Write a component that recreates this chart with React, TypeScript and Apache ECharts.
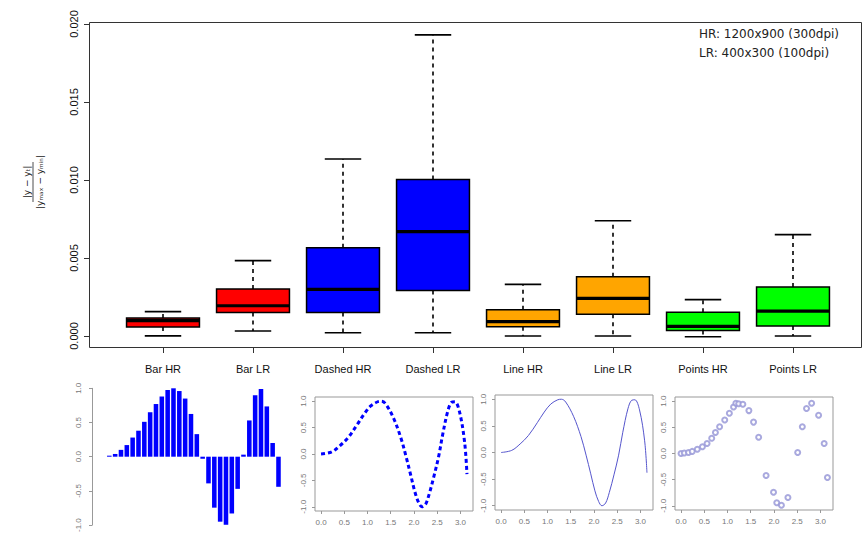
import React, { useEffect, useRef } from "react";
import * as echarts from "echarts";

// ---- main boxplot data ----
const categories = ["Bar HR", "Bar LR", "Dashed HR", "Dashed LR", "Line HR", "Line LR", "Points HR", "Points LR"];
const boxColors = ["#ff0000", "#ff0000", "#0000ff", "#0000ff", "#ffa500", "#ffa500", "#00ff00", "#00ff00"];
const whiskerLow = [0.00001, 0.00032, 0.00021, 0.00021, 0.0, 0.0, -0.00005, 0.0];
const quart1 = [0.00058, 0.0015, 0.0015, 0.00291, 0.0006, 0.00139, 0.00036, 0.00064];
const medians = [0.00098, 0.00194, 0.00299, 0.00669, 0.00092, 0.00241, 0.00062, 0.0016];
const quart3 = [0.00115, 0.00301, 0.00566, 0.01004, 0.00169, 0.0038, 0.00152, 0.00314];
const whiskerHigh = [0.00156, 0.00483, 0.01135, 0.0193, 0.00331, 0.00739, 0.00233, 0.0065];

// ---- small panels data ----
const barValues = [0.015, 0.04, 0.1, 0.17, 0.28, 0.38, 0.51, 0.65, 0.77, 0.88, 0.975, 1.0, 0.96, 0.85, 0.625, 0.33,
  -0.03, -0.39, -0.745, -0.95, -0.995, -0.83, -0.47, 0.03, 0.53, 0.9, 0.99, 0.735, 0.2, -0.44];
const curveX = [0, 0.23, 0.41, 0.59, 0.78, 0.93, 1.07, 1.22, 1.3, 1.39, 1.56, 1.72, 1.83, 1.93, 2.02, 2.1, 2.17, 2.25, 2.33, 2.43, 2.53, 2.62, 2.73, 2.81, 2.88, 2.98, 3.09, 3.14];
const curveY = [0, 0.04, 0.16, 0.32, 0.56, 0.76, 0.91, 0.99, 1.0, 0.95, 0.68, 0.3, -0.05, -0.4, -0.72, -0.92, -1.0, -0.95, -0.75, -0.42, -0.05, 0.38, 0.82, 0.98, 0.99, 0.8, 0.22, -0.38];
const pointsX = [0.0, 0.07, 0.16, 0.24, 0.35, 0.46, 0.56, 0.66, 0.74, 0.83, 0.94, 1.04, 1.13, 1.18, 1.24, 1.33, 1.46, 1.56, 1.67, 1.83, 1.99, 2.06, 2.16, 2.3, 2.51, 2.61, 2.7, 2.81, 2.96, 3.08, 3.15];
const pointsY = [0.0, 0.01, 0.02, 0.04, 0.08, 0.13, 0.19, 0.29, 0.4, 0.51, 0.64, 0.77, 0.89, 0.96, 0.95, 0.94, 0.82, 0.6, 0.31, -0.42, -0.74, -0.94, -0.99, -0.84, 0.02, 0.51, 0.86, 0.96, 0.73, 0.19, -0.46];
const panelXTicks = [0, 0.5, 1, 1.5, 2, 2.5, 3];
const panelYTicks = [-1, -0.5, 0, 0.5, 1];
const legendLines = ["HR: 1200x900 (300dpi)", "LR: 400x300 (100dpi)"];

const narrow = "'Liberation Sans Narrow', 'Liberation Sans', sans-serif";
const small = { fontSize: 8, color: "#777", fontFamily: "'Liberation Sans', sans-serif" };

function panelAxes(gridIndex: number) {
  const x = {
    type: "value", gridIndex, min: -0.13, max: 3.27, position: "bottom",
    axisLine: { show: false, onZero: false }, splitLine: { show: false },
    axisTick: { show: true, customValues: panelXTicks, length: 3, lineStyle: { color: "#999" } },
    axisLabel: { ...small, customValues: panelXTicks, margin: 7, formatter: (v: number) => v.toFixed(1) },
  };
  const y = {
    type: "value", gridIndex, min: -1.08, max: 1.08, position: "left",
    axisLine: { show: false, onZero: false }, splitLine: { show: false },
    axisTick: { show: true, customValues: panelYTicks, length: 3, lineStyle: { color: "#999" } },
    axisLabel: { ...small, customValues: panelYTicks, rotate: 90, margin: 8, formatter: (v: number) => v.toFixed(1) },
  };
  return { x, y };
}

export default function App() {
  const ref = useRef<HTMLDivElement>(null);
  useEffect(() => {
    if (!ref.current) return;
    const chart = echarts.init(ref.current, undefined, { renderer: "svg" });
    const boxData = categories.map((_, i) => [i, whiskerLow[i], quart1[i], medians[i], quart3[i], whiskerHigh[i]]);
    const p2 = panelAxes(2), p3 = panelAxes(3), p4 = panelAxes(4);
    chart.setOption({
      animation: false,
      backgroundColor: "#ffffff",
      grid: [
        { left: 118, width: 720, top: 24, height: 312 },
        { left: 106.4, width: 175, top: 388.3, height: 138.6 },
        { left: 315, width: 158, top: 397, height: 114, show: true, borderColor: "#999", borderWidth: 1, backgroundColor: "transparent" },
        { left: 495, width: 158, top: 395, height: 115, show: true, borderColor: "#999", borderWidth: 1, backgroundColor: "transparent" },
        { left: 675, width: 158, top: 397, height: 113, show: true, borderColor: "#999", borderWidth: 1, backgroundColor: "transparent" },
      ],
      xAxis: [
        {
          type: "category", gridIndex: 0, data: categories, offset: 12, position: "bottom",
          axisLine: { show: false, onZero: false },
          axisTick: { show: true, alignWithLabel: true, length: 5, lineStyle: { color: "#333" } },
          axisLabel: { fontSize: 11, color: "#111", fontFamily: narrow, margin: 15 },
        },
        { type: "category", gridIndex: 1, data: barValues.map((_, i) => String(i + 1)), show: false },
        p2.x, p3.x, p4.x,
      ],
      yAxis: [
        {
          type: "value", gridIndex: 0, min: 0, max: 0.02, interval: 0.005, offset: 29,
          splitLine: { show: false },
          axisLine: { show: true, onZero: false, lineStyle: { color: "#333" } },
          axisTick: { show: true, length: 5, lineStyle: { color: "#333" } },
          axisLabel: { rotate: 90, fontSize: 11, color: "#111", fontFamily: narrow, margin: 10, formatter: (v: number) => v.toFixed(3) },
        },
        {
          type: "value", gridIndex: 1, min: -1, max: 1, interval: 0.5, offset: 14.4,
          splitLine: { show: false },
          axisLine: { show: true, onZero: false, lineStyle: { color: "#999" } },
          axisTick: { show: true, length: 3, lineStyle: { color: "#999" } },
          axisLabel: { ...small, rotate: 90, margin: 10, formatter: (v: number) => v.toFixed(1) },
        },
        p2.y, p3.y, p4.y,
      ],
      series: [
        {
          type: "custom", xAxisIndex: 0, yAxisIndex: 0, data: boxData,
          encode: { x: 0, y: [1, 2, 3, 4, 5] },
          renderItem: (params: any, api: any) => {
            const i = api.value(0);
            const lo = api.coord([i, api.value(1)]);
            const b1 = api.coord([i, api.value(2)]);
            const md = api.coord([i, api.value(3)]);
            const b3 = api.coord([i, api.value(4)]);
            const hi = api.coord([i, api.value(5)]);
            const band = api.size([1, 0])[0];
            const bw = band * 0.81;
            const cw = bw / 2;
            const cx = lo[0];
            const dash = { stroke: "#000", lineWidth: 1.6, lineDash: [4, 4], fill: "none" };
            const solid = { stroke: "#000", lineWidth: 1.6, fill: "none" };
            return {
              type: "group",
              children: [
                { type: "line", shape: { x1: cx, y1: b3[1], x2: cx, y2: hi[1] }, style: dash },
                { type: "line", shape: { x1: cx, y1: b1[1], x2: cx, y2: lo[1] }, style: dash },
                { type: "line", shape: { x1: cx - cw / 2, y1: hi[1], x2: cx + cw / 2, y2: hi[1] }, style: solid },
                { type: "line", shape: { x1: cx - cw / 2, y1: lo[1], x2: cx + cw / 2, y2: lo[1] }, style: solid },
                { type: "rect", shape: { x: cx - bw / 2, y: b3[1], width: bw, height: b1[1] - b3[1] }, style: { fill: boxColors[params.dataIndex], stroke: "#000", lineWidth: 1.5 } },
                { type: "line", shape: { x1: cx - bw / 2, y1: md[1], x2: cx + bw / 2, y2: md[1] }, style: { stroke: "#000", lineWidth: 3.2 } },
              ],
            };
          },
        },
        { type: "bar", xAxisIndex: 1, yAxisIndex: 1, data: barValues, barWidth: "78%", itemStyle: { color: "#0000ff" } },
        {
          type: "line", xAxisIndex: 2, yAxisIndex: 2, data: curveX.map((x, i) => [x, curveY[i]]),
          smooth: 0.35, showSymbol: false, lineStyle: { color: "#0000ff", width: 3, type: [4, 3] },
        },
        {
          type: "line", xAxisIndex: 3, yAxisIndex: 3, data: curveX.map((x, i) => [x, curveY[i]]),
          smooth: 0.35, showSymbol: false, lineStyle: { color: "#5555cc", width: 1 },
        },
        {
          type: "scatter", xAxisIndex: 4, yAxisIndex: 4, data: pointsX.map((x, i) => [x, pointsY[i]]),
          symbol: "emptyCircle", symbolSize: 5, itemStyle: { color: "#9a9ad8", borderWidth: 1, opacity: 0.85 },
        },
      ],
      graphic: [
        { type: "rect", shape: { x: 89.5, y: 22.5, width: 772, height: 325 }, style: { fill: "none", stroke: "#333", lineWidth: 1 }, z: 100 },
        ...legendLines.map((t, k) => ({
          type: "text", x: 699, y: 28 + k * 19,
          style: { text: t, fontSize: 12, fontFamily: "'DejaVu Sans', sans-serif", fill: "#222", textAlign: "left", textVerticalAlign: "top", align: "left", verticalAlign: "top" },
        })),
        {
          type: "group", x: 33, y: 182, rotation: Math.PI / 2,
          children: [
            { type: "text", x: 0, y: -2, style: { text: "|y − yₜ|", fontSize: 9, fontFamily: "'DejaVu Sans', sans-serif", fill: "#222", textAlign: "center", textVerticalAlign: "bottom", align: "center", verticalAlign: "bottom" } },
            { type: "line", shape: { x1: -20, y1: 0, x2: 20, y2: 0 }, style: { stroke: "#222", lineWidth: 0.8 } },
            { type: "text", x: 0, y: 2, style: { text: "|yₘₐₓ − yₘᵢₙ|", fontSize: 9, fontFamily: "'DejaVu Sans', sans-serif", fill: "#222", textAlign: "center", textVerticalAlign: "top", align: "center", verticalAlign: "top" } },
          ],
        },
      ],
    });
    return () => chart.dispose();
  }, []);
  return <div ref={ref} style={{ position: "fixed", left: 0, top: 0, width: 866, height: 535 }} />;
}
